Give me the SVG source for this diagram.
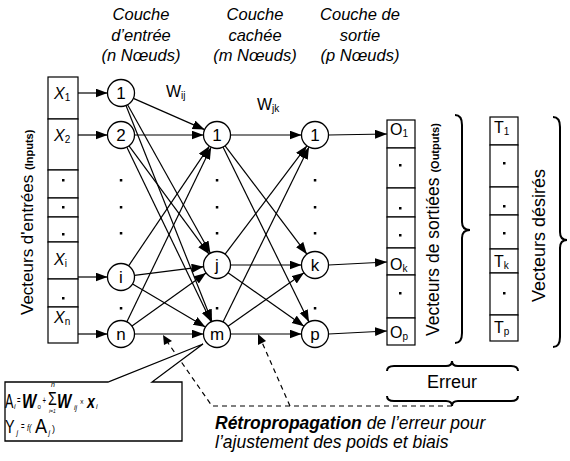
<svg xmlns="http://www.w3.org/2000/svg" width="570" height="461" viewBox="0 0 570 461">
<style>
text{font-family:"Liberation Sans",Arial,sans-serif;fill:#000}
.t{font-size:16.5px;font-style:italic;text-anchor:middle}
.nd circle{fill:#fff;stroke:#000;stroke-width:1.3}
.nl{font-size:17px;text-anchor:middle}
.cell{fill:#fff;stroke:#000;stroke-width:1.2}
.dot{fill:#000}
.c line{stroke:#000;stroke-width:1.2;marker-end:url(#ah)}
.dash{stroke:#000;stroke-width:1.2;stroke-dasharray:5,4;fill:none}
.br{fill:none;stroke:#000;stroke-width:2}
.cl{font-size:16px}
.sb{font-size:10px}
.fs{font-size:7px;font-style:italic}
</style>
<defs>
<marker id="ah" markerUnits="userSpaceOnUse" markerWidth="13" markerHeight="10" refX="12" refY="4.5" orient="auto">
<path d="M0,0 L12,4.5 L0,9 Z" fill="#000"/>
</marker>
</defs>
<rect width="570" height="461" fill="#fff"/>

<!-- titles -->
<g id="titles">
<text class="t" x="141" y="20">Couche</text>
<text class="t" x="141" y="41">d’entrée</text>
<text class="t" x="141" y="61">(n Nœuds)</text>
<text class="t" x="255" y="20">Couche</text>
<text class="t" x="255" y="41">cachée</text>
<text class="t" x="255" y="61">(m Nœuds)</text>
<text class="t" x="360" y="20">Couche de</text>
<text class="t" x="360" y="41">sortie</text>
<text class="t" x="360" y="61">(p Nœuds)</text>
<text x="166" y="97" font-size="16">W<tspan font-size="10" dy="2">ij</tspan></text>
<text x="257" y="110" font-size="16">W<tspan font-size="10" dy="2">jk</tspan></text>
</g>

<!-- input vector -->
<g id="input-vector">
<rect class="cell" x="48" y="77" width="30" height="42"/>
<rect class="cell" x="48" y="119" width="30" height="51"/>
<rect class="cell" x="48" y="170" width="30" height="28"/>
<rect class="cell" x="48" y="198" width="30" height="19"/>
<rect class="cell" x="48" y="217" width="30" height="25"/>
<rect class="cell" x="48" y="242" width="30" height="37"/>
<rect class="cell" x="48" y="279" width="30" height="28"/>
<rect class="cell" x="48" y="307" width="30" height="36"/>
<text class="cl" x="54" y="99" font-style="italic">X<tspan class="sb" font-style="normal" dy="2">1</tspan></text>
<text class="cl" x="54" y="141" font-style="italic">X<tspan class="sb" font-style="normal" dy="2">2</tspan></text>
<text class="cl" x="54" y="265" font-style="italic">X<tspan class="sb" font-style="normal" dy="2">i</tspan></text>
<text class="cl" x="54" y="323" font-style="italic">X<tspan class="sb" font-style="normal" dy="2">n</tspan></text>
<rect class="dot" x="62" y="179" width="2.5" height="2.5"/>
<rect class="dot" x="62" y="206" width="2.5" height="2.5"/>
<rect class="dot" x="62" y="233" width="2.5" height="2.5"/>
<rect class="dot" x="62" y="297" width="2.5" height="2.5"/>
<text font-size="17" transform="translate(33,315) rotate(-90)">Vecteurs d'entrées <tspan font-size="11" font-weight="bold">(Inputs)</tspan></text>
</g>

<!-- connectors -->
<g id="connectors" class="c">
<line x1="78" y1="93" x2="107.5" y2="93"/>
<line x1="78" y1="135" x2="107.5" y2="135"/>
<line x1="78" y1="277" x2="107.5" y2="277"/>
<line x1="78" y1="334" x2="107.5" y2="334"/>
<line x1="133.4" y1="98.4" x2="204.6" y2="129.6"/>
<line x1="127.6" y1="104.8" x2="210.4" y2="253.2"/>
<line x1="126.0" y1="105.5" x2="212.0" y2="321.5"/>
<line x1="134.5" y1="135" x2="203.5" y2="135"/>
<line x1="129.0" y1="145.9" x2="209.0" y2="254.1"/>
<line x1="126.9" y1="147.2" x2="211.1" y2="321.8"/>
<line x1="128.6" y1="265.8" x2="209.4" y2="146.2"/>
<line x1="134.4" y1="275.3" x2="203.6" y2="266.7"/>
<line x1="132.6" y1="283.9" x2="205.4" y2="327.1"/>
<line x1="126.9" y1="321.8" x2="211.1" y2="147.2"/>
<line x1="132.0" y1="326.1" x2="206.0" y2="272.9"/>
<line x1="134.5" y1="334" x2="203.5" y2="334"/>
<line x1="230.5" y1="135" x2="301.5" y2="135"/>
<line x1="225.1" y1="145.8" x2="306.9" y2="254.2"/>
<line x1="223.0" y1="147.1" x2="309.0" y2="321.9"/>
<line x1="225.1" y1="254.2" x2="306.9" y2="145.8"/>
<line x1="230.5" y1="265" x2="301.5" y2="265"/>
<line x1="228.0" y1="272.8" x2="304.0" y2="326.2"/>
<line x1="223.0" y1="321.9" x2="309.0" y2="147.1"/>
<line x1="228.0" y1="326.2" x2="304.0" y2="272.8"/>
<line x1="230.5" y1="334" x2="301.5" y2="334"/>
<line x1="328.5" y1="135" x2="387" y2="134"/>
<line x1="328.5" y1="265" x2="387" y2="262"/>
<line x1="328.5" y1="334" x2="387" y2="331"/>
</g>

<!-- input nodes -->
<g id="in-1" class="nd"><circle cx="121" cy="93" r="13.5"/><text class="nl" x="121" y="99">1</text></g>
<g id="in-2" class="nd"><circle cx="121" cy="135" r="13.5"/><text class="nl" x="121" y="141">2</text></g>
<g id="in-i" class="nd"><circle cx="121" cy="277" r="13.5"/><text class="nl" x="121" y="283">i</text></g>
<g id="in-n" class="nd"><circle cx="121" cy="334" r="13.5"/><text class="nl" x="121" y="340">n</text></g>
<!-- hidden nodes -->
<g id="hid-1" class="nd"><circle cx="217" cy="135" r="13.5"/><text class="nl" x="217" y="141">1</text></g>
<g id="hid-j" class="nd"><circle cx="217" cy="265" r="13.5"/><text class="nl" x="217" y="271">j</text></g>
<g id="hid-m" class="nd"><circle cx="217" cy="334" r="13.5"/><text class="nl" x="217" y="340">m</text></g>
<!-- output nodes -->
<g id="out-1" class="nd"><circle cx="315" cy="135" r="13.5"/><text class="nl" x="315" y="141">1</text></g>
<g id="out-k" class="nd"><circle cx="315" cy="265" r="13.5"/><text class="nl" x="315" y="271">k</text></g>
<g id="out-p" class="nd"><circle cx="315" cy="334" r="13.5"/><text class="nl" x="315" y="340">p</text></g>

<g id="node-dots">
<rect class="dot" x="119.8" y="179" width="2.5" height="2.5"/>
<rect class="dot" x="119.8" y="206" width="2.5" height="2.5"/>
<rect class="dot" x="119.8" y="232" width="2.5" height="2.5"/>
<rect class="dot" x="119.8" y="307" width="2.5" height="2.5"/>
<rect class="dot" x="215.8" y="179" width="2.5" height="2.5"/>
<rect class="dot" x="215.8" y="206" width="2.5" height="2.5"/>
<rect class="dot" x="215.8" y="232" width="2.5" height="2.5"/>
<rect class="dot" x="215.8" y="307" width="2.5" height="2.5"/>
<rect class="dot" x="313.8" y="179" width="2.5" height="2.5"/>
<rect class="dot" x="313.8" y="206" width="2.5" height="2.5"/>
<rect class="dot" x="313.8" y="232" width="2.5" height="2.5"/>
<rect class="dot" x="313.8" y="307" width="2.5" height="2.5"/>
</g>

<!-- output vector -->
<g id="output-vector">
<rect class="cell" x="387" y="120" width="28" height="28"/>
<rect class="cell" x="387" y="148" width="28" height="40"/>
<rect class="cell" x="387" y="188" width="28" height="29"/>
<rect class="cell" x="387" y="217" width="28" height="31"/>
<rect class="cell" x="387" y="248" width="28" height="27"/>
<rect class="cell" x="387" y="275" width="28" height="43"/>
<rect class="cell" x="387" y="318" width="28" height="27"/>
<text class="cl" x="390" y="135">O<tspan class="sb" dy="2">1</tspan></text>
<text class="cl" x="390" y="270">O<tspan class="sb" dy="2">k</tspan></text>
<text class="cl" x="390" y="338">O<tspan class="sb" dy="2">p</tspan></text>
<rect class="dot" x="399" y="164" width="2.5" height="2.5"/>
<rect class="dot" x="399" y="207" width="2.5" height="2.5"/>
<rect class="dot" x="399" y="234" width="2.5" height="2.5"/>
<rect class="dot" x="399" y="292" width="2.5" height="2.5"/>
<text font-size="17.5" transform="translate(439,336) rotate(-90)">Vecteurs de sortiées <tspan font-size="11" font-weight="bold">(Outputs)</tspan></text>
<path class="br" d="M455,115 Q462,115 462,125 L462,222 Q462,230 470,230 Q462,230 462,238 L462,333 Q462,343 455,343"/>
</g>

<!-- desired vector -->
<g id="desired-vector">
<rect class="cell" x="490" y="117" width="28" height="28"/>
<rect class="cell" x="490" y="145" width="28" height="42"/>
<rect class="cell" x="490" y="187" width="28" height="28"/>
<rect class="cell" x="490" y="215" width="28" height="34"/>
<rect class="cell" x="490" y="249" width="28" height="24"/>
<rect class="cell" x="490" y="273" width="28" height="42"/>
<rect class="cell" x="490" y="315" width="28" height="26"/>
<text class="cl" x="494" y="133">T<tspan class="sb" dy="2">1</tspan></text>
<text class="cl" x="494" y="267">T<tspan class="sb" dy="2">k</tspan></text>
<text class="cl" x="494" y="333">T<tspan class="sb" dy="2">p</tspan></text>
<rect class="dot" x="503" y="162" width="2.5" height="2.5"/>
<rect class="dot" x="503" y="205" width="2.5" height="2.5"/>
<rect class="dot" x="503" y="232" width="2.5" height="2.5"/>
<rect class="dot" x="503" y="292" width="2.5" height="2.5"/>
<text font-size="18" transform="translate(545,302) rotate(-90)">Vecteurs désirés</text>
<path class="br" d="M553,117 Q560,117 560,127 L560,232 Q560,240 567,240 Q560,240 560,248 L560,337 Q560,347 553,347"/>
</g>

<!-- error -->
<g id="error">
<path class="br" d="M387,371 Q387,366 394,366 L446,366 Q452,366 452,361 Q452,366 458,366 L511,366 Q518,366 518,371"/>
<path class="br" d="M387,396 Q387,401 394,401 L446,401 Q452,401 452,406 Q452,401 458,401 L511,401 Q518,401 518,396"/>
<text x="452" y="388" font-size="18" text-anchor="middle">Erreur</text>
</g>

<!-- backprop -->
<g id="backprop">
<path class="dash" d="M452,406 L212,406 L166,340"/>
<path class="dash" d="M290,406 L261,340"/>
<path d="M163,335 L172,341 L164,345 Z" fill="#000"/>
<path d="M258,334 L266,341 L258,345 Z" fill="#000"/>
<text x="215" y="429" font-size="17.5" font-style="italic"><tspan font-weight="bold">Rétropropagation</tspan> de l’erreur pour</text>
<text x="215" y="448" font-size="17.5" font-style="italic">l’ajustement des poids et biais</text>
</g>

<!-- callout -->
<g id="callout">
<path d="M5,382 L108,382 L203,344 L152,382 L182,382 L182,441 L5,441 Z" fill="#fff" stroke="#000" stroke-width="1.3"/>
<text transform="translate(5,408) scale(0.6,1)" font-size="21">A</text>
<text class="fs" x="14" y="409">i</text>
<text transform="translate(17,404) scale(0.6,1)" font-size="10">=</text>
<text transform="translate(22,408) scale(0.72,1)" font-size="21" font-style="italic" font-weight="bold">W</text>
<text x="37.5" y="409" font-size="6">0</text>
<text transform="translate(42.5,404) scale(0.6,1)" font-size="10">+</text>
<text transform="translate(48,405) scale(0.75,1)" font-size="19">Σ</text>
<text class="fs" x="51" y="387" font-size="6">n</text>
<text x="49" y="413" font-size="5" font-style="italic">i=1</text>
<text transform="translate(57,408) scale(0.72,1)" font-size="21" font-style="italic" font-weight="bold">W</text>
<text class="fs" x="74" y="410" font-size="6">ij</text>
<text transform="translate(80,405) scale(0.7,1)" font-size="9">×</text>
<text transform="translate(87,408) scale(0.75,1)" font-size="19" font-style="italic" font-weight="bold">x</text>
<text class="fs" x="96" y="409" font-size="6">i</text>
<text transform="translate(5,433) scale(0.8,1)" font-size="18">Y</text>
<text class="fs" x="16.5" y="435">j</text>
<text transform="translate(21,430) scale(0.6,1)" font-size="10">=</text>
<text transform="translate(27,431) scale(0.8,1)" font-size="9" font-style="italic">f(</text>
<text transform="translate(35,433) scale(0.9,1)" font-size="20">A</text>
<text class="fs" x="48.5" y="435">j</text>
<text x="52" y="432" font-size="9">)</text>
</g>
</svg>
